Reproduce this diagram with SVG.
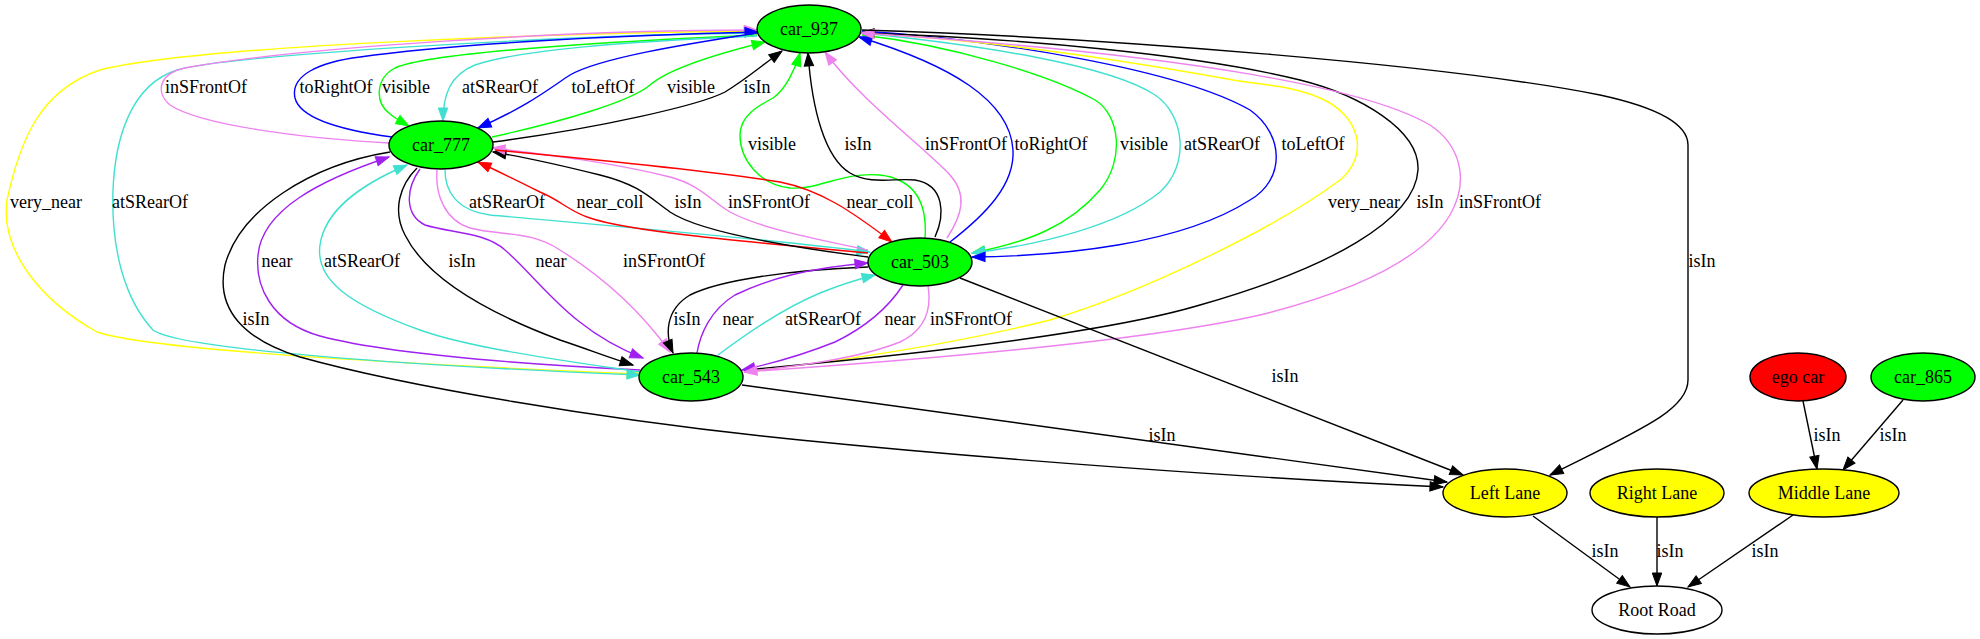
<svg xmlns="http://www.w3.org/2000/svg" width="1980" height="639" viewBox="0 0 1980 639">
<style>
text{font-family:"Liberation Serif","Times New Roman",serif;font-size:18px;fill:#000;text-anchor:middle}
.e{fill:none;stroke-width:1.4}
.k{stroke:#000}.b{stroke:#0000ff}.g{stroke:#00ff00}.t{stroke:#40e0d0}.v{stroke:#ee82ee}.p{stroke:#a020f0}.r{stroke:#ff0000}.y{stroke:#ffff00}
.k.e{marker-end:url(#ak)}.b.e{marker-end:url(#ab)}.g.e{marker-end:url(#ag)}.t.e{marker-end:url(#at)}.v.e{marker-end:url(#av)}.p.e{marker-end:url(#ap)}.r.e{marker-end:url(#ar)}.y.e{marker-end:url(#ay)}
.n{stroke:#000;stroke-width:1.4}
</style>
<defs>
<marker id="ak" markerUnits="userSpaceOnUse" markerWidth="14" markerHeight="10" refX="13" refY="5" orient="auto" overflow="visible"><path d="M0,0.3 L13,5 L0,9.7 Z" fill="#000" stroke="#000"/></marker>
<marker id="ab" markerUnits="userSpaceOnUse" markerWidth="14" markerHeight="10" refX="13" refY="5" orient="auto" overflow="visible"><path d="M0,0.3 L13,5 L0,9.7 Z" fill="#0000ff" stroke="#0000ff"/></marker>
<marker id="ag" markerUnits="userSpaceOnUse" markerWidth="14" markerHeight="10" refX="13" refY="5" orient="auto" overflow="visible"><path d="M0,0.3 L13,5 L0,9.7 Z" fill="#00ff00" stroke="#00ff00"/></marker>
<marker id="at" markerUnits="userSpaceOnUse" markerWidth="14" markerHeight="10" refX="13" refY="5" orient="auto" overflow="visible"><path d="M0,0.3 L13,5 L0,9.7 Z" fill="#40e0d0" stroke="#40e0d0"/></marker>
<marker id="av" markerUnits="userSpaceOnUse" markerWidth="14" markerHeight="10" refX="13" refY="5" orient="auto" overflow="visible"><path d="M0,0.3 L13,5 L0,9.7 Z" fill="#ee82ee" stroke="#ee82ee"/></marker>
<marker id="ap" markerUnits="userSpaceOnUse" markerWidth="14" markerHeight="10" refX="13" refY="5" orient="auto" overflow="visible"><path d="M0,0.3 L13,5 L0,9.7 Z" fill="#a020f0" stroke="#a020f0"/></marker>
<marker id="ar" markerUnits="userSpaceOnUse" markerWidth="14" markerHeight="10" refX="13" refY="5" orient="auto" overflow="visible"><path d="M0,0.3 L13,5 L0,9.7 Z" fill="#ff0000" stroke="#ff0000"/></marker>
<marker id="ay" markerUnits="userSpaceOnUse" markerWidth="14" markerHeight="10" refX="13" refY="5" orient="auto" overflow="visible"><path d="M0,0.3 L13,5 L0,9.7 Z" fill="#ffff00" stroke="#ffff00"/></marker>
</defs>
<rect width="1980" height="639" fill="#fff"/>
<g id="edges">
<!-- car_937 -> car_543 very_near (left) -->
<g><path class="e y" d="M757,31 C560,33 200,45 100,70 C40,90 20,140 7,200 C0,250 40,300 97,332 C150,350 400,364 640,374"/><text x="46" y="208">very_near</text></g>
<!-- car_937 -> car_543 atSRearOf (left) -->
<g><path class="e t" d="M757,33 C560,35 230,55 177,70 C130,85 115,140 113,190 C111,250 125,300 153,330 C180,350 420,366 640,375"/><text x="150" y="208">atSRearOf</text></g>
<!-- car_777 -> car_937 inSFrontOf -->
<g><path class="e v" d="M389,143 C300,138 200,125 170,105 C155,92 158,72 190,67 C300,48 560,30 757,30"/><text x="206" y="93">inSFrontOf</text></g>
<!-- car_777 -> car_937 toRightOf -->
<g><path class="e b" d="M392,137 C340,130 300,118 295,98 C290,75 320,62 360,57 C450,44 620,35 758,32"/><text x="336" y="93">toRightOf</text></g>
<!-- car_937 -> car_777 visible -->
<g><path class="e g" d="M757,35 C600,42 430,52 395,68 C376,78 374,102 390,114 C396,119 402,122 409,126"/><text x="406" y="93">visible</text></g>
<!-- car_937 -> car_777 atSRearOf -->
<g><path class="e t" d="M757,36 C620,42 520,50 475,65 C450,75 443,95 443,121"/><text x="500" y="93">atSRearOf</text></g>
<!-- car_937 -> car_777 toLeftOf -->
<g><path class="e b" d="M757,33 C680,45 600,58 570,75 C550,88 530,105 478,128"/><text x="603" y="93">toLeftOf</text></g>
<!-- car_777 -> car_937 visible -->
<g><path class="e g" d="M492,137 C560,122 630,102 650,85 C665,72 700,58 765,42"/><text x="691" y="93">visible</text></g>
<!-- car_777 -> car_937 isIn -->
<g><path class="e k" d="M493,142 C600,128 700,105 725,92 C745,80 760,67 782,51"/><text x="757" y="93">isIn</text></g>
<!-- car_503 -> car_937 visible -->
<g><path class="e g" d="M925,238 C927,210 920,180 880,175 C840,172 820,190 790,188 C760,185 740,160 740,135 C740,115 760,105 773,98 C785,90 795,70 800,53"/><text x="772" y="150">visible</text></g>
<!-- car_503 -> car_937 isIn -->
<g><path class="e k" d="M935,237 C945,215 945,185 915,180 C895,178 870,185 850,173 C825,158 812,110 808,53"/><text x="858" y="150">isIn</text></g>
<!-- car_503 -> car_937 inSFrontOf -->
<g><path class="e v" d="M947,238 C962,215 968,195 950,175 C925,148 860,100 825,52"/><text x="966" y="150">inSFrontOf</text></g>
<!-- car_503 -> car_937 toRightOf -->
<g><path class="e b" d="M950,242 C985,215 1015,185 1013,150 C1010,100 950,65 859,37"/><text x="1051" y="150">toRightOf</text></g>
<!-- car_937 -> car_503 visible -->
<g><path class="e g" d="M862,35 C950,45 1050,75 1095,100 C1120,115 1125,160 1100,190 C1070,225 1030,242 972,253"/><text x="1144" y="150">visible</text></g>
<!-- car_937 -> car_503 atSRearOf -->
<g><path class="e t" d="M862,33 C980,45 1110,65 1155,95 C1185,115 1190,165 1160,192 C1120,225 1040,245 972,253"/><text x="1222" y="150">atSRearOf</text></g>
<!-- car_937 -> car_503 toLeftOf -->
<g><path class="e b" d="M862,31 C1000,40 1180,70 1250,110 C1285,135 1285,180 1250,200 C1180,245 1060,256 972,257"/><text x="1313" y="150">toLeftOf</text></g>
<!-- car_543 -> car_937 very_near (right) -->
<g><path class="e y" d="M744,372 C850,360 950,345 1050,320 C1150,290 1280,225 1340,180 C1370,155 1360,115 1320,98 C1290,85 1260,85 1233,80 C1150,65 1000,40 861,33"/><text x="1364" y="208">very_near</text></g>
<!-- car_543 -> car_937 isIn (right) -->
<g><path class="e k" d="M744,370 C900,356 1100,335 1200,305 C1330,268 1415,220 1418,170 C1420,130 1360,95 1300,80 C1200,55 1020,38 861,33"/><text x="1430" y="208">isIn</text></g>
<!-- car_543 -> car_937 inSFrontOf (right) -->
<g><path class="e v" d="M744,372 C950,358 1150,340 1260,315 C1340,295 1420,265 1450,215 C1470,180 1460,145 1430,125 C1370,90 1200,55 861,33"/><text x="1500" y="208">inSFrontOf</text></g>
<!-- car_937 -> Left Lane isIn -->
<g><path class="e k" d="M862,30 C1100,37 1450,65 1600,95 C1660,108 1688,125 1688,145 L1688,380 C1688,410 1640,430 1550,475"/><text x="1702" y="267">isIn</text></g>
<!-- car_777 -> car_503 atSRearOf -->
<g><path class="e t" d="M445,170 C445,190 455,210 490,215 C600,225 760,238 870,252"/><text x="507" y="208">atSRearOf</text></g>
<!-- car_503 -> car_777 near_coll -->
<g><path class="e r" d="M868,253 C760,243 630,232 590,218 C570,212 560,200 540,192 C520,182 500,172 478,162"/><text x="610" y="208">near_coll</text></g>
<!-- car_503 -> car_777 isIn -->
<g><path class="e k" d="M868,257 C790,247 700,232 670,212 C650,198 640,185 600,175 C560,165 530,158 493,152"/><text x="688" y="208">isIn</text></g>
<!-- car_503 -> car_777 inSFrontOf -->
<g><path class="e v" d="M868,250 C810,238 760,228 730,212 C710,200 700,185 670,177 C610,162 550,155 492,148"/><text x="769" y="208">inSFrontOf</text></g>
<!-- car_777 -> car_503 near_coll -->
<g><path class="e r" d="M495,150 C600,160 720,172 780,182 C820,190 850,210 892,242"/><text x="880" y="208">near_coll</text></g>
<!-- car_777 -> car_543 isIn -->
<g><path class="e k" d="M417,168 C400,185 392,210 405,235 C425,275 480,310 560,340 C590,350 610,358 633,365"/><text x="462" y="267">isIn</text></g>
<!-- car_777 -> car_543 near -->
<g><path class="e p" d="M420,169 C405,190 405,215 425,225 C450,233 485,232 505,250 C540,280 570,330 643,358"/><text x="551" y="267">near</text></g>
<!-- car_777 -> car_543 inSFrontOf -->
<g><path class="e v" d="M437,170 C435,195 445,220 470,228 C500,236 530,230 560,250 C600,275 640,310 670,352"/><text x="664" y="267">inSFrontOf</text></g>
<!-- car_543 -> car_777 near -->
<g><path class="e p" d="M640,370 C500,363 380,352 320,336 C270,322 255,285 258,255 C262,210 320,180 389,157"/><text x="277" y="267">near</text></g>
<!-- car_543 -> car_777 atSRearOf -->
<g><path class="e t" d="M640,372 C560,360 470,348 420,330 C350,305 315,280 320,245 C325,210 360,185 407,165"/><text x="362" y="267">atSRearOf</text></g>
<!-- car_777 -> Left Lane isIn -->
<g><path class="e k" d="M390,152 C310,165 240,210 225,265 C215,310 245,340 300,357 C400,385 600,420 800,440 C1000,460 1250,478 1443,487"/><text x="256" y="325">isIn</text></g>
<!-- car_503 -> car_543 isIn -->
<g><path class="e k" d="M868,267 C790,270 720,280 690,295 C665,310 665,335 673,353"/><text x="687" y="325">isIn</text></g>
<!-- car_543 -> car_503 near -->
<g><path class="e p" d="M697,353 C700,335 710,310 735,295 C770,278 810,268 868,263"/><text x="738" y="325">near</text></g>
<!-- car_543 -> car_503 atSRearOf -->
<g><path class="e t" d="M718,355 C745,335 780,310 820,293 C840,285 855,280 875,275"/><text x="823" y="325">atSRearOf</text></g>
<!-- car_503 -> car_543 near -->
<g><path class="e p" d="M903,285 C890,305 870,325 835,342 C800,356 770,364 742,370"/><text x="900" y="325">near</text></g>
<!-- car_503 -> car_543 inSFrontOf -->
<g><path class="e v" d="M928,286 C932,310 925,330 900,342 C860,358 800,366 744,372"/><text x="971" y="325">inSFrontOf</text></g>
<!-- car_503 -> Left Lane isIn -->
<g><path class="e k" d="M960,278 L1463,475"/><text x="1285" y="382">isIn</text></g>
<!-- car_543 -> Left Lane isIn -->
<g><path class="e k" d="M742,385 L1447,482"/><text x="1162" y="441">isIn</text></g>
<!-- ego car -> Middle Lane isIn -->
<g><path class="e k" d="M1803,401 L1817,469"/><text x="1827" y="441">isIn</text></g>
<!-- car_865 -> Middle Lane isIn -->
<g><path class="e k" d="M1903,400 L1843,470"/><text x="1893" y="441">isIn</text></g>
<!-- Left Lane -> Root Road isIn -->
<g><path class="e k" d="M1533,516 L1630,587"/><text x="1605" y="557">isIn</text></g>
<!-- Right Lane -> Root Road isIn -->
<g><path class="e k" d="M1657,517 L1657,586"/><text x="1670" y="557">isIn</text></g>
<!-- Middle Lane -> Root Road isIn -->
<g><path class="e k" d="M1793,515 L1688,587"/><text x="1765" y="557">isIn</text></g>
</g>
<g id="node-car_937"><ellipse class="n" cx="809" cy="29" rx="52" ry="24" fill="#00ff00"/><text x="809" y="35">car_937</text></g>
<g id="node-car_777"><ellipse class="n" cx="441" cy="145" rx="52" ry="24" fill="#00ff00"/><text x="441" y="151">car_777</text></g>
<g id="node-car_503"><ellipse class="n" cx="920" cy="262" rx="52" ry="24" fill="#00ff00"/><text x="920" y="268">car_503</text></g>
<g id="node-car_543"><ellipse class="n" cx="691" cy="377" rx="52" ry="24" fill="#00ff00"/><text x="691" y="383">car_543</text></g>
<g id="node-ego_car"><ellipse class="n" cx="1798" cy="377" rx="48" ry="24" fill="#ff0000"/><text x="1798" y="383">ego car</text></g>
<g id="node-car_865"><ellipse class="n" cx="1923" cy="377" rx="52" ry="24" fill="#00ff00"/><text x="1923" y="383">car_865</text></g>
<g id="node-left_lane"><ellipse class="n" cx="1505" cy="493" rx="62" ry="24" fill="#ffff00"/><text x="1505" y="499">Left Lane</text></g>
<g id="node-right_lane"><ellipse class="n" cx="1657" cy="493" rx="67" ry="24" fill="#ffff00"/><text x="1657" y="499">Right Lane</text></g>
<g id="node-middle_lane"><ellipse class="n" cx="1824" cy="493" rx="75" ry="24" fill="#ffff00"/><text x="1824" y="499">Middle Lane</text></g>
<g id="node-root_road"><ellipse class="n" cx="1657" cy="610" rx="65" ry="24" fill="#ffffff"/><text x="1657" y="616">Root Road</text></g>
</svg>
